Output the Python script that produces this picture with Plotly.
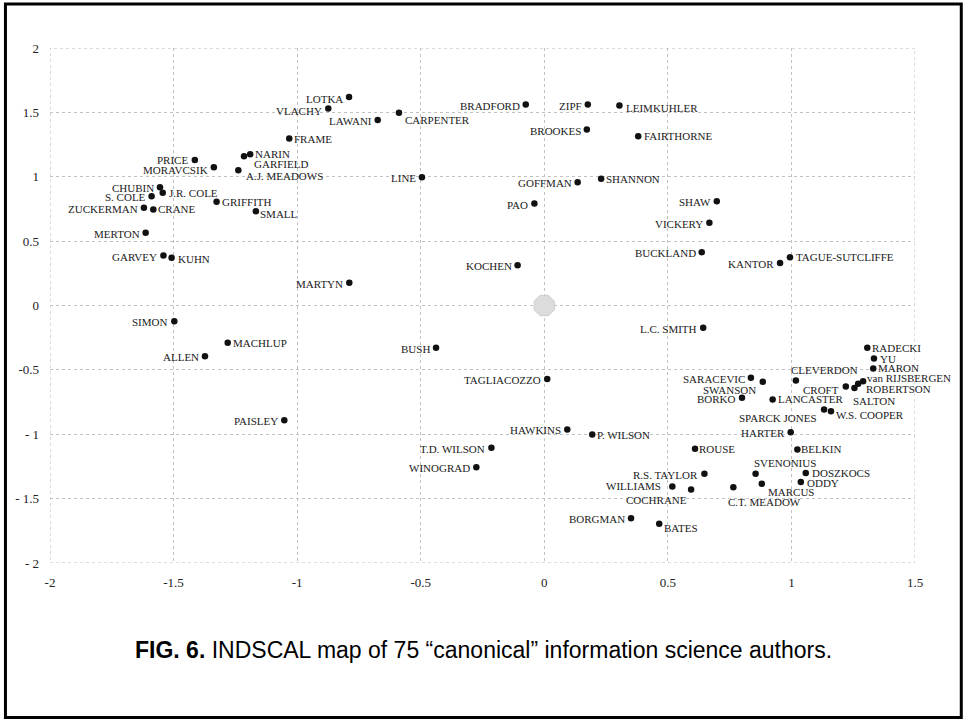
import plotly.graph_objects as go

# ---- data ----
authors = [
    "LOTKA", "VLACHY", "LAWANI", "CARPENTER", "FRAME", "NARIN", "GARFIELD",
    "A.J. MEADOWS", "PRICE", "MORAVCSIK", "CHUBIN", "J.R. COLE", "S. COLE",
    "GRIFFITH", "ZUCKERMAN", "CRANE", "SMALL", "MERTON", "GARVEY", "KUHN",
    "BRADFORD", "ZIPF", "LEIMKUHLER", "BROOKES", "FAIRTHORNE", "LINE",
    "GOFFMAN", "SHANNON", "PAO", "SHAW", "VICKERY", "BUCKLAND", "KOCHEN",
    "KANTOR", "TAGUE-SUTCLIFFE", "MARTYN", "SIMON", "MACHLUP", "ALLEN",
    "PAISLEY", "BUSH", "TAGLIACOZZO", "HAWKINS", "P. WILSON", "T.D. WILSON",
    "WINOGRAD", "BORGMAN", "BATES", "WILLIAMS", "L.C. SMITH", "RADECKI", "YU",
    "MARON", "van RIJSBERGEN", "ROBERTSON", "SALTON", "CROFT", "CLEVERDON",
    "SARACEVIC", "SWANSON", "BORKO", "LANCASTER", "SPARCK JONES",
    "W.S. COOPER", "HARTER", "ROUSE", "BELKIN", "R.S. TAYLOR", "SVENONIUS",
    "DOSZKOCS", "ODDY", "COCHRANE", "C.T. MEADOW", "MARCUS",
]
dim1 = [
    -0.79, -0.874, -0.674, -0.588, -1.032, -1.19, -1.215,
    -1.238, -1.414, -1.337, -1.555, -1.544, -1.589,
    -1.326, -1.62, -1.582, -1.167, -1.613, -1.541, -1.508,
    -0.075, 0.176, 0.304, 0.172, 0.38, -0.495,
    0.135, 0.23, -0.04, 0.698, 0.668, 0.637, -0.108,
    0.954, 0.994, -0.789, -1.497, -1.281, -1.373,
    -1.052, -0.438, 0.012, 0.093, 0.194, -0.214,
    -0.275, 0.351, 0.465, 0.518, 0.643, 1.307, 1.334,
    1.331, 1.29, 1.27, 1.255, 1.22, 1.018,
    0.836, 0.884, 0.8, 0.924, 1.132,
    1.16, 0.997, 0.61, 1.024, 0.648, 0.855,
    1.058, 1.038, 0.594, 0.765, 0.88,
]
dim2 = [
    1.62, 1.53, 1.44, 1.497, 1.297, 1.175, 1.16,
    1.05, 1.13, 1.074, 0.919, 0.875, 0.849,
    0.805, 0.759, 0.746, 0.732, 0.565, 0.388, 0.37,
    1.561, 1.561, 1.553, 1.367, 1.315, 0.997,
    0.958, 0.984, 0.792, 0.81, 0.642, 0.414, 0.313,
    0.331, 0.375, 0.176, -0.122, -0.29, -0.394,
    -0.891, -0.329, -0.57, -0.963, -1.002, -1.105,
    -1.256, -1.652, -1.695, -1.405, -0.173, -0.329, -0.412,
    -0.489, -0.588, -0.608, -0.64, -0.63, -0.583,
    -0.562, -0.593, -0.717, -0.73, -0.808,
    -0.821, -0.984, -1.113, -1.118, -1.307, -1.307,
    -1.3, -1.37, -1.429, -1.411, -1.385,
]
centroid_x = [0.0]
centroid_y = [0.0]
x_ticks = [-2, -1.5, -1, -0.5, 0, 0.5, 1, 1.5]
x_tick_labels = ["-2", "-1.5", "-1", "-0.5", "0", "0.5", "1", "1.5"]
y_ticks = [-2, -1.5, -1, -0.5, 0, 0.5, 1, 1.5, 2]
y_tick_labels = ["- 2", "- 1.5", "- 1", "-0.5", "0", "0.5", "1", "1.5", "2"]
caption = "<b>FIG. 6.</b> INDSCAL map of 75 \u201ccanonical\u201d information science authors."

# ---- label placement (style): side, x offset px, y offset px (down positive) ----
label_style = {
    "LOTKA": ("L", -4, 2), "VLACHY": ("L", -4, 2), "MORAVCSIK": ("L", -4, 3),
    "PRICE": ("L", -5, 0),
    "CARPENTER": ("R", 4, 7), "FRAME": ("R", 3, 0), "NARIN": ("R", 3, 0),
    "GARFIELD": ("R", 8, 8), "A.J. MEADOWS": ("R", 6, 6),
    "J.R. COLE": ("R", 4, 0), "GRIFFITH": ("R", 3, 0), "CRANE": ("R", 3, 0),
    "SMALL": ("R", 2, 3), "KUHN": ("R", 4, 1), "LEIMKUHLER": ("R", 5, 2),
    "FAIRTHORNE": ("R", 4, 0), "SHANNON": ("R", 3, 0),
    "TAGUE-SUTCLIFFE": ("R", 4, 0), "MACHLUP": ("R", 3, 0),
    "P. WILSON": ("R", 3, 0), "BATES": ("R", 3, 4), "RADECKI": ("R", 3, 0),
    "YU": ("R", 4, 0), "MARON": ("R", 3, 0), "van RIJSBERGEN": ("R", 2, -3),
    "ROBERTSON": ("R", 6, 5), "SALTON": ("R", -3, 13), "CLEVERDON": ("R", -7, -11),
    "CROFT": ("L", -5, 3), "SWANSON": ("L", -5, 8), "LANCASTER": ("R", 3, 0),
    "SPARCK JONES": ("L", -5, 8), "W.S. COOPER": ("R", 3, 4),
    "ROUSE": ("R", 2, 0), "BELKIN": ("R", 2, 0), "SVENONIUS": ("R", -4, -11),
    "DOSZKOCS": ("R", 4, 0), "ODDY": ("R", 4, 1), "COCHRANE": ("L", -2, 11),
    "C.T. MEADOW": ("R", -7, 15), "MARCUS": ("R", 4, 8), "WILLIAMS": ("L", -9, 0),
}

fig = go.Figure()
fig.add_trace(go.Scatter(
    x=centroid_x, y=centroid_y, mode="markers",
    marker=dict(symbol="octagon", size=22, color="#dcdcdc",
                line=dict(color="#cccccc", width=1)),
    hoverinfo="skip", showlegend=False,
))
fig.add_trace(go.Scatter(
    x=dim1, y=dim2, mode="markers",
    marker=dict(size=6.5, color="#111111"),
    text=authors, hoverinfo="text", showlegend=False, cliponaxis=False,
))

label_font = dict(family="Liberation Serif, Times New Roman, serif", size=11, color="#1a1a1a")
for name, xv, yv in zip(authors, dim1, dim2):
    side, dx, dy = label_style.get(name, ("L", -4, 1))
    fig.add_annotation(
        x=xv, y=yv, text=name, showarrow=False, font=label_font,
        xanchor="left" if side == "R" else "right", yanchor="middle",
        xshift=dx, yshift=-dy,
    )

axis_common = dict(
    showgrid=True, gridcolor="#c2c2c2", griddash="dot", gridwidth=1,
    zeroline=False, showline=False, ticks="",
    tickfont=dict(family="Liberation Serif, Times New Roman, serif", size=13, color="#222222"),
)
fig.update_xaxes(range=[-2, 1.5], tickvals=x_ticks, ticktext=x_tick_labels,
                 ticklabelstandoff=10, **axis_common)
fig.update_yaxes(range=[-2, 2], tickvals=y_ticks, ticktext=y_tick_labels,
                 ticklabelstandoff=10, **axis_common)

# plot frame (dotted) and outer black border
fig.add_shape(type="rect", xref="x", yref="y", x0=-2, x1=1.5, y0=-2, y1=2,
              line=dict(color="#b8b8b8", width=1, dash="dot"), layer="below")
fig.add_shape(type="rect", xref="paper", yref="paper",
              x0=-0.0515, x1=1.0535, y0=-0.3, y1=1.0854,
              line=dict(color="#000000", width=3))

fig.add_annotation(xref="paper", yref="paper", x=0.5017, y=-0.169,
                   text=caption, showarrow=False,
                   font=dict(family="Liberation Sans, Arial, sans-serif", size=23, color="#000000"),
                   xanchor="center", yanchor="middle")

fig.update_layout(
    width=966, height=721,
    margin=dict(l=50, r=51, t=48, b=158),
    paper_bgcolor="white", plot_bgcolor="white",
)
fig.write_html(
    "out.html",
    config={"displayModeBar": False},
    post_script="document.body.style.margin='0px';document.body.style.overflow='hidden';",
)
